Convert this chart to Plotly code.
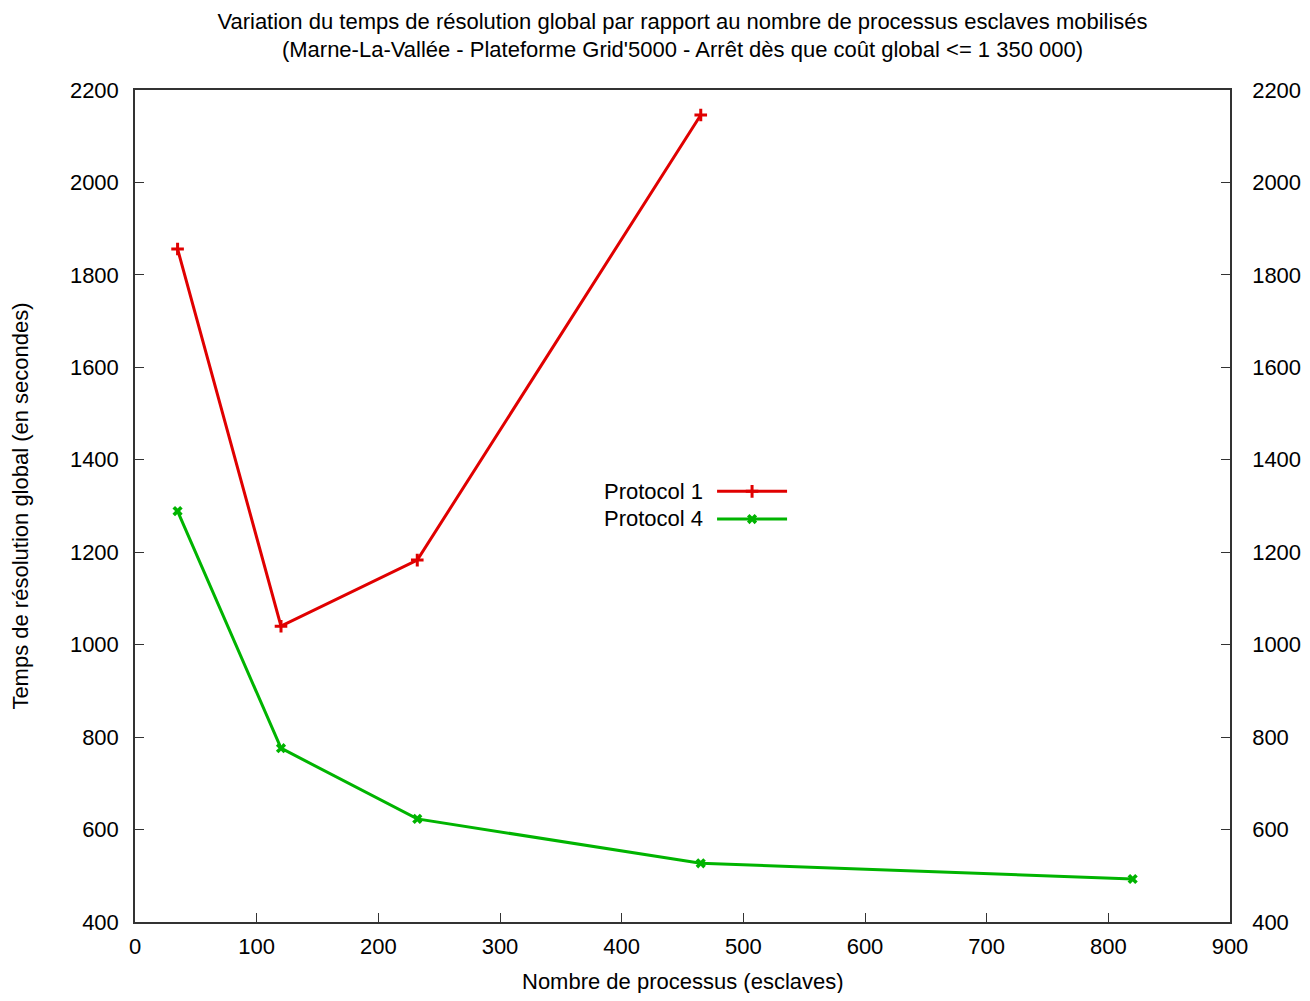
import plotly.graph_objects as go

# data
procs_p1 = [35, 120, 232, 465]
temps_p1 = [1856, 1040, 1183, 2146]

procs_p4 = [35, 120, 232, 465, 820]
temps_p4 = [1289, 776, 623, 527, 493]

x_ticks = [0, 100, 200, 300, 400, 500, 600, 700, 800, 900]
y_ticks = [400, 600, 800, 1000, 1200, 1400, 1600, 1800, 2000, 2200]

font = "Liberation Sans, Arial, sans-serif"
red = "#e00000"
green = "#00b400"
fs = 22

fig = go.Figure()
fig.add_trace(go.Scatter(x=procs_p1, y=temps_p1, mode='lines+markers', name=' ',
                         line=dict(color=red, width=3),
                         marker=dict(symbol='cross-thin', size=9,
                                     line=dict(color=red, width=3))))
fig.add_trace(go.Scatter(x=procs_p4, y=temps_p4, mode='lines+markers', name=' ',
                         line=dict(color=green, width=3),
                         marker=dict(symbol='x', size=9, color=green)))
# invisible trace so that the right-hand axis shows
fig.add_trace(go.Scatter(x=[None], y=[None], yaxis='y2', showlegend=False))

axis_common = dict(showline=True, linecolor='#333', linewidth=1.5, mirror=True,
                   ticks='inside', ticklen=9, tickcolor='#333', tickwidth=1,
                   showgrid=False, zeroline=False, automargin=False,
                   tickfont=dict(family=font, size=fs, color='black'))

# page body has an 8px margin, so the figure is a bit smaller than the window
fig.update_layout(
    width=1294, height=985,
    paper_bgcolor='white', plot_bgcolor='white',
    margin=dict(l=127, r=72, t=82, b=71),
    font=dict(family=font, color='black'),
    title=dict(text="Variation du temps de résolution global par rapport au nombre de processus esclaves mobilisés"
                    "<br>(Marne-La-Vallée - Plateforme Grid'5000 - Arrêt dès que coût global <= 1 350 000)",
               x=0.5, xref='paper', y=0.979, yref='container', yanchor='top',
               font=dict(family=font, size=fs)),
    xaxis=dict(range=[0, 900], tickvals=x_ticks, ticklabelstandoff=4,
               **axis_common),
    yaxis=dict(range=[400, 2200], tickvals=y_ticks, ticklabelstandoff=10,
               title=dict(text="Temps de résolution global (en secondes)", font=dict(size=fs), standoff=39),
               **axis_common),
    yaxis2=dict(range=[400, 2200], tickvals=y_ticks, overlaying='y', side='right',
                matches='y', ticklabelstandoff=16, **axis_common),
    legend=dict(x=0.527, y=0.5006, xanchor='left', yanchor='middle',
                bgcolor='rgba(0,0,0,0)', itemwidth=70,
                font=dict(family=font, size=19), tracegroupgap=0),
    annotations=[
        dict(text="Nombre de processus (esclaves)", x=0.5, y=-0.071, xref='paper', yref='paper',
             xanchor='center', yanchor='middle', showarrow=False,
             font=dict(family=font, size=fs)),
        dict(text="Protocol 1", x=0.521, y=0.517, xref='paper', yref='paper',
             xanchor='right', yanchor='middle', showarrow=False,
             font=dict(family=font, size=fs)),
        dict(text="Protocol 4", x=0.521, y=0.4844, xref='paper', yref='paper',
             xanchor='right', yanchor='middle', showarrow=False,
             font=dict(family=font, size=fs)),
    ],
)

fig.write_html("out.html")
